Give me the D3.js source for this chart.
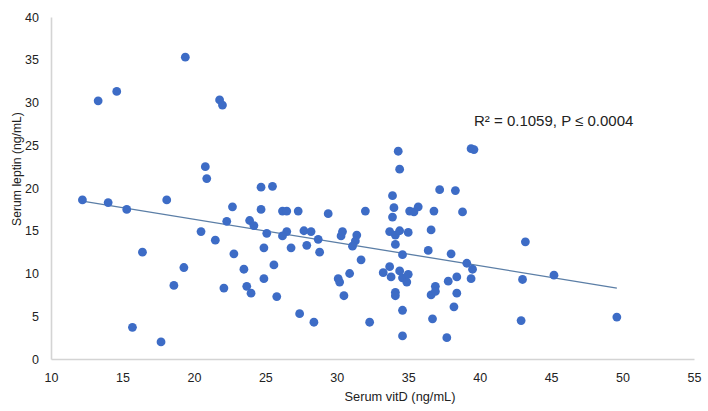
<!DOCTYPE html>
<html>
<head>
<meta charset="utf-8">
<script src="https://cdn.jsdelivr.net/npm/d3@7"></script>
<style>
  body { margin: 0; background: #fff; }
  text { font-family: "Liberation Sans", Arial, sans-serif; fill: #222; }
</style>
</head>
<body>
<div id="chart"></div>
<script>
// values
const vitD = [
  12.2, 14.0, 15.3, 18.1, 13.3, 14.6, 19.4, 21.8, 22.0, 20.8,
  20.9, 20.5, 21.5, 22.7, 22.3, 16.4, 22.8, 19.3, 18.6, 22.1,
  15.7, 17.7, 34.3, 34.4, 24.7, 25.5, 37.2, 38.3, 33.9, 24.7,
  34.0, 33.9, 26.2, 26.5, 27.3, 29.4, 32.0, 35.1, 35.4, 35.7,
  36.8, 38.8, 23.9, 24.2, 25.1, 26.5, 26.2, 27.7, 28.2, 28.7,
  24.9, 26.8, 27.9, 28.8, 30.3, 30.4, 31.4, 31.3, 31.1, 31.7,
  23.5, 23.7, 24.0, 24.9, 25.6, 25.8, 27.4, 28.4, 30.1, 30.2,
  30.9, 30.5, 32.3, 33.25, 33.7, 33.8, 34.4, 34.6, 34.9, 35.0,
  34.6, 34.1, 33.7, 34.1, 34.4, 35.0, 34.1, 34.1, 34.6, 34.6,
  36.6, 36.4, 38.0, 36.9, 36.6, 36.9, 36.7, 37.7, 37.8, 38.2,
  38.4, 38.4, 39.4, 39.6, 43.2, 39.1, 39.5, 39.4, 43.0, 45.2,
  42.9, 49.6
];
const leptin = [
  18.6, 18.3, 17.5, 18.6, 30.2, 31.3, 35.3, 30.3, 29.7, 22.5,
  21.1, 14.9, 13.9, 17.8, 16.1, 12.5, 12.3, 10.7, 8.6, 8.3,
  3.7, 2.0, 24.3, 22.2, 20.1, 20.2, 19.8, 19.7, 19.1, 17.5,
  17.7, 16.6, 17.3, 17.3, 17.3, 17.0, 17.3, 17.3, 17.2, 17.8,
  17.3, 17.2, 16.2, 15.6, 14.7, 14.9, 14.4, 15.0, 14.9, 14.0,
  13.0, 13.0, 13.3, 12.5, 14.4, 14.9, 14.5, 13.8, 13.2, 11.6,
  10.5, 8.5, 7.7, 9.4, 11.0, 7.3, 5.3, 4.3, 9.4, 9.0,
  10.0, 7.4, 4.3, 10.1, 10.8, 9.6, 10.3, 9.5, 9.0, 9.9,
  12.2, 13.4, 14.9, 14.5, 15.0, 14.8, 7.8, 7.4, 5.7, 2.7,
  15.1, 12.7, 12.3, 8.5, 7.5, 7.9, 4.7, 2.5, 9.1, 6.1,
  9.6, 7.7, 24.6, 24.5, 13.7, 11.2, 10.5, 9.4, 9.3, 9.8,
  4.5, 4.9
];
const trendX = [12.2, 49.6];
const trendY = [18.46, 8.3];
const xTicks = [10, 15, 20, 25, 30, 35, 40, 45, 50, 55];
const yTicks = [0, 5, 10, 15, 20, 25, 30, 35, 40];
const note = "R\u00B2  = 0.1059, P \u2264 0.0004";

const width = 708;
const height = 411;
const margin = { top: 17, right: 14, bottom: 52, left: 51 };

const svg = d3
  .select("#chart")
  .append("svg")
  .attr("width", width)
  .attr("height", height);

const x = d3
  .scaleLinear()
  .domain([10, 55])
  .range([margin.left, width - margin.right]);

const y = d3
  .scaleLinear()
  .domain([0, 40])
  .range([height - margin.bottom, margin.top]);

// axes
const xAxis = svg
  .append("g")
  .attr("transform", `translate(0,${height - margin.bottom})`)
  .call(d3.axisBottom(x).tickValues(xTicks).tickSize(0).tickPadding(14));

const yAxis = svg
  .append("g")
  .attr("transform", `translate(${margin.left},0)`)
  .call(d3.axisLeft(y).tickValues(yTicks).tickSize(0).tickPadding(12));

[xAxis, yAxis].forEach((g) => {
  g.select(".domain").attr("stroke", "#d4d4d4").attr("stroke-width", 1.6);
  g.selectAll("text")
    .style("font-family", "'Liberation Sans', Arial, sans-serif")
    .style("font-size", "12.5px")
    .attr("fill", "#222");
});

// trend line
const line = d3
  .line()
  .x((d, i) => x(trendX[i]))
  .y((d) => y(d));

svg
  .append("path")
  .datum(trendY)
  .attr("fill", "none")
  .attr("stroke", "#5b7ea6")
  .attr("stroke-width", 1.3)
  .attr("d", line);

// points
svg
  .append("g")
  .selectAll("circle")
  .data(leptin)
  .join("circle")
  .attr("cx", (d, i) => x(vitD[i]))
  .attr("cy", (d) => y(d))
  .attr("r", 4.4)
  .attr("fill", "#3d6cc6");

// titles
svg
  .append("text")
  .attr("x", 400)
  .attr("y", 401)
  .attr("text-anchor", "middle")
  .style("font-size", "12.8px")
  .text("Serum vitD (ng/mL)");

svg
  .append("text")
  .attr("transform", "translate(21,169) rotate(-90)")
  .attr("text-anchor", "middle")
  .style("font-size", "12.2px")
  .text("Serum leptin (ng/mL)");

svg
  .append("text")
  .attr("x", 474)
  .attr("y", 126)
  .style("font-size", "15px")
  .text(note);
</script>
</body>
</html>
